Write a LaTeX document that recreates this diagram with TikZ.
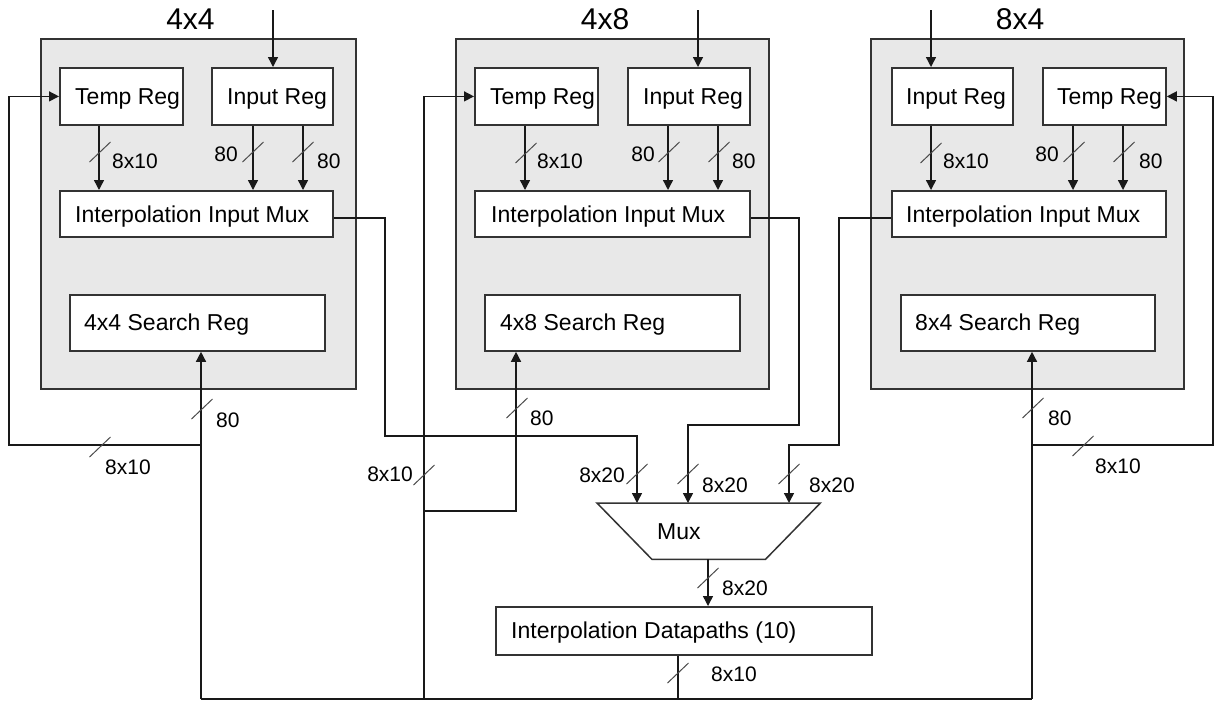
\documentclass[tikz,border=0pt]{standalone}
\usepackage{fontspec}
\setmainfont{Liberation Sans}
\usetikzlibrary{arrows.meta,calc}
\definecolor{blkfill}{HTML}{E8E8E8}
\definecolor{edge}{HTML}{333333}
\begin{document}
\begin{tikzpicture}[x=1pt,y=-1pt,
  wire/.style={line width=1.4pt, draw=black!90},
  arr/.style={wire,-{Triangle[length=10pt,width=10pt]}},
  blk/.style={draw=edge, line width=1.8pt, fill=blkfill, anchor=north west, inner sep=0},
  reg/.style={draw=edge, line width=1.8pt, fill=white, anchor=north west, inner sep=0},
  txt/.style={font=\fontsize{23}{27}\selectfont, inner sep=0, anchor=base west},
  lbl/.style={font=\fontsize{21}{25}\selectfont, inner sep=0, anchor=base west},
  lble/.style={lbl, anchor=base east},
  ttl/.style={font=\fontsize{30}{34}\selectfont, inner sep=0, anchor=base},
  slash/.style={draw=black!70, line width=1pt},
  busmark/.pic={\draw[slash] (-10.5,10) -- (10.5,-10);}]
\useasboundingbox (0,0) rectangle (1214,702);

% ---------------- 4x4 block ----------------
\node[blk, minimum width=315, minimum height=350] (b1) at (40,38) {};
\node[ttl] (b1t) at (190.5,29) {4x4};
\node[reg, minimum width=123, minimum height=57] (t1) at (59,67) {};
\node[txt] (t1l) at (75,104) {Temp Reg};
\node[reg, minimum width=121, minimum height=57] (i1) at (211,67) {};
\node[txt] (i1l) at (227,104) {Input Reg};
\node[reg, minimum width=273, minimum height=46] (m1) at (59,190) {};
\node[txt] (m1l) at (75,222) {Interpolation Input Mux};
\node[reg, minimum width=255, minimum height=56] (s1) at (69,294) {};
\node[txt] (s1l) at (84,330) {4x4 Search Reg};

% ---------------- 4x8 block ----------------
\node[blk, minimum width=313, minimum height=350] (b2) at (455,38) {};
\node[ttl] (b2t) at (605,29) {4x8};
\node[reg, minimum width=123, minimum height=57] (t2) at (474,67) {};
\node[txt] (t2l) at (490,104) {Temp Reg};
\node[reg, minimum width=122, minimum height=57] (i2) at (627,67) {};
\node[txt] (i2l) at (643,104) {Input Reg};
\node[reg, minimum width=275, minimum height=46] (m2) at (474,190) {};
\node[txt] (m2l) at (491,222) {Interpolation Input Mux};
\node[reg, minimum width=255, minimum height=56] (s2) at (484,294) {};
\node[txt] (s2l) at (500,330) {4x8 Search Reg};

% ---------------- 8x4 block ----------------
\node[blk, minimum width=313, minimum height=350] (b3) at (870,38) {};
\node[ttl] (b3t) at (1020,29) {8x4};
\node[reg, minimum width=121, minimum height=57] (i3) at (891,67) {};
\node[txt] (i3l) at (906,104) {Input Reg};
\node[reg, minimum width=123, minimum height=57] (t3) at (1042,67) {};
\node[txt] (t3l) at (1057,104) {Temp Reg};
\node[reg, minimum width=274, minimum height=46] (m3) at (891,190) {};
\node[txt] (m3l) at (906,222) {Interpolation Input Mux};
\node[reg, minimum width=254, minimum height=56] (s3) at (900,294) {};
\node[txt] (s3l) at (915,330) {8x4 Search Reg};

% ---------------- shared mux and datapaths ----------------
\node[anchor=north west, inner sep=0, minimum width=223, minimum height=56] (mux) at (597,503) {};
\draw[draw=edge, line width=1.5pt, fill=white]
  (mux.north west) -- (mux.north east) -- ([xshift=-55pt]mux.south east)
  -- ([xshift=55pt]mux.south west) -- cycle;
\node[txt] (muxl) at (657,539) {Mux};
\node[reg, minimum width=376, minimum height=48] (dp) at (495,606) {};
\node[txt] (dpl) at (511,638) {Interpolation Datapaths (10)};

% ---------------- wire positions ----------------
\coordinate (in1) at (273,10);  \coordinate (in2) at (698,10);  \coordinate (in3) at (931,10);
\coordinate (xt1) at (99,0);    \coordinate (xa1) at (253,0);   \coordinate (xb1) at (303,0);
\coordinate (xt2) at (525,0);   \coordinate (xa2) at (668,0);   \coordinate (xb2) at (718,0);
\coordinate (xt3) at (931,0);   \coordinate (xa3) at (1073,0);  \coordinate (xb3) at (1123,0);
\coordinate (r1) at (385,218);  \coordinate (q1) at (637,436);
\coordinate (r2) at (799,218);  \coordinate (q2) at (688,425);
\coordinate (r3) at (839,218);  \coordinate (q3) at (789,445);
\coordinate (xmo) at (708,0);
\coordinate (bl) at (201,699);  \coordinate (bm) at (424,699);
\coordinate (bd) at (678,699);  \coordinate (br) at (1032,699);
\coordinate (f1) at (201,445);  \coordinate (f1c) at (9,445);
\coordinate (f2) at (424,511);  \coordinate (f2c) at (516,511);
\coordinate (f3) at (1032,445); \coordinate (f3c) at (1213,445);

% ---------------- register inputs ----------------
\draw[arr] (in1) -- (in1 |- i1.north);
\draw[arr] (in2) -- (in2 |- i2.north);
\draw[arr] (in3) -- (in3 |- i3.north);

% ---------------- register to input mux ----------------
\draw[arr] (t1.south -| xt1) -- (m1.north -| xt1);
\draw[arr] (i1.south -| xa1) -- (m1.north -| xa1);
\draw[arr] (i1.south -| xb1) -- (m1.north -| xb1);
\draw[arr] (t2.south -| xt2) -- (m2.north -| xt2);
\draw[arr] (i2.south -| xa2) -- (m2.north -| xa2);
\draw[arr] (i2.south -| xb2) -- (m2.north -| xb2);
\draw[arr] (i3.south -| xt3) -- (m3.north -| xt3);
\draw[arr] (t3.south -| xa3) -- (m3.north -| xa3);
\draw[arr] (t3.south -| xb3) -- (m3.north -| xb3);

% ---------------- input muxes to shared mux ----------------
\draw[arr] (m1.east |- r1) -- (r1) |- (q1) -- (q1 |- mux.north);
\draw[arr] (m2.east |- r2) -- (r2) |- (q2) -- (q2 |- mux.north);
\draw[arr] (m3.west |- r3) -- (r3) |- (q3) -- (q3 |- mux.north);
\draw[arr] (mux.south -| xmo) -- (dp.north -| xmo);

% ---------------- result bus and feedback ----------------
\draw[wire] (dp.south -| bd) -- (bd);
\draw[wire] (bl) -- (br);
\draw[arr] (bl) -- (bl |- s1.south);
\draw[arr] (f1) -- (f1c) |- (t1.west);
\draw[arr] (bm) |- (t2.west);
\draw[arr] (f2) -- (f2c) -- (f2c |- s2.south);
\draw[arr] (br) -- (br |- s3.south);
\draw[arr] (f3) -- (f3c) |- (t3.east);

% ---------------- bus width marks ----------------
\pic at (100,152) {busmark};  \pic at (253,152) {busmark};  \pic at (303,152) {busmark};
\pic at (526,153) {busmark};  \pic at (669,152) {busmark};  \pic at (719,152) {busmark};
\pic at (931,153) {busmark};  \pic at (1074,152) {busmark}; \pic at (1124,152) {busmark};
\pic at (202,409) {busmark};  \pic at (100,447) {busmark};
\pic at (424,475) {busmark};  \pic at (517,408) {busmark};
\pic at (1033,408) {busmark}; \pic at (1083,446) {busmark};
\pic at (637,474) {busmark};  \pic at (688,474) {busmark};  \pic at (789,474) {busmark};
\pic at (708,578) {busmark};  \pic at (678,673) {busmark};

% ---------------- width labels ----------------
\node[lbl]  (w1) at (112,168) {8x10};
\node[lble] (w2) at (238,161) {80};
\node[lbl]  (w3) at (317,168) {80};
\node[lbl]  (w4) at (537,168) {8x10};
\node[lble] (w5) at (655,161) {80};
\node[lbl]  (w6) at (732,168) {80};
\node[lbl]  (w7) at (943,168) {8x10};
\node[lble] (w8) at (1059,161) {80};
\node[lbl]  (w9) at (1139,168) {80};
\node[lbl]  (w10) at (216,427) {80};
\node[lbl]  (w11) at (105,474) {8x10};
\node[lble] (w12) at (413,481) {8x10};
\node[lbl]  (w13) at (530,425) {80};
\node[lbl]  (w14) at (1048,425) {80};
\node[lbl]  (w15) at (1095,473) {8x10};
\node[lble] (w16) at (625,482) {8x20};
\node[lbl]  (w17) at (702,492) {8x20};
\node[lbl]  (w18) at (809,492) {8x20};
\node[lbl]  (w19) at (722,595) {8x20};
\node[lbl]  (w20) at (711,681) {8x10};
\end{tikzpicture}
\end{document}
